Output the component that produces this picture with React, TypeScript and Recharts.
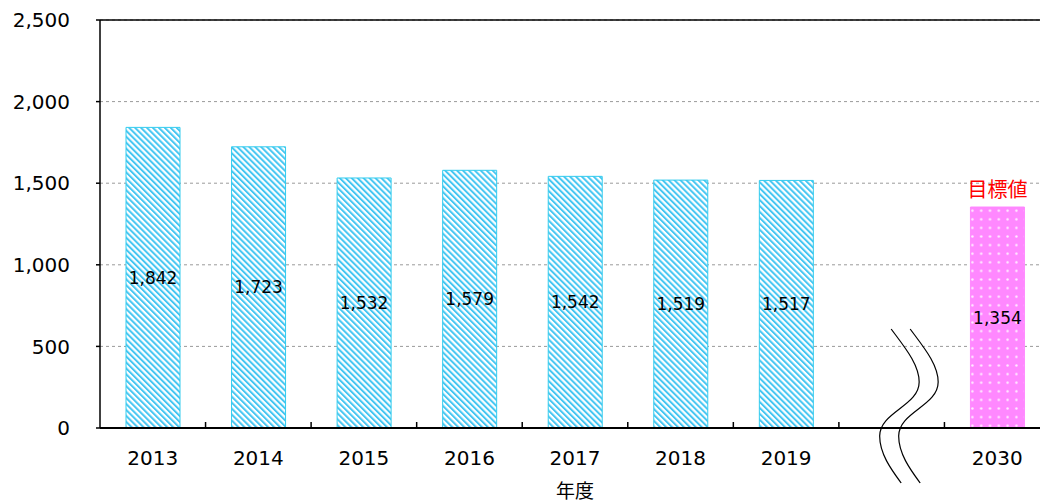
import {
  BarChart,
  Bar,
  XAxis,
  YAxis,
  CartesianGrid,
  ReferenceLine,
  LabelList,
  Cell,
} from 'recharts';

const years = ['2013', '2014', '2015', '2016', '2017', '2018', '2019', '', '2030'];
const emissions = [1842, 1723, 1532, 1579, 1542, 1519, 1517, null, 1354];
const targetLabels = ['', '', '', '', '', '', '', '', '目標値'];
const yTicks = [0, 500, 1000, 1500, 2000, 2500];

const data = years.map((year, i) => ({
  year,
  value: emissions[i],
  target: targetLabels[i] || undefined,
}));

const CHART_W = 1070;
const CHART_H = 502;
const MARGIN = { top: 20, right: 20, left: 0, bottom: 0 };
const Y_W = 100;
const X_H = 74;
const SLOT = (CHART_W - MARGIN.left - MARGIN.right - Y_W) / years.length;

const NUM_FONT = '"DejaVu Sans", Verdana, sans-serif';
const CJK_FONT = '"Noto Sans CJK JP", sans-serif';

const fmt = (v: any) => (v == null || v === '' ? '' : Number(v).toLocaleString('en-US'));

// S-shaped break mark, relative to the category centre on the axis
const WAVE =
  'M -0.5 -99 C 12 -82, 27.5 -64, 27.5 -46 C 27.5 -22, -12 -16, -12 8 C -12 26, 0 42, 9.5 55';

function YearTick(props: any) {
  const { x, y, payload } = props;
  const half = SLOT / 2;
  return (
    <g>
      <line x1={x + half} x2={x + half} y1={y} y2={y - 6} stroke="#000" strokeWidth={1.5} />
      {payload.value === '' ? (
        <g fill="none" stroke="#000" strokeWidth={1.2}>
          <path d={WAVE} transform={`translate(${x}, ${y})`} />
          <path d={WAVE} transform={`translate(${x + 19}, ${y})`} />
        </g>
      ) : (
        <text
          x={x}
          y={y + 30}
          textAnchor="middle"
          dominantBaseline="central"
          fontSize={20}
          fontFamily={NUM_FONT}
          fill="#000"
        >
          {payload.value}
        </text>
      )}
    </g>
  );
}

export default function App() {
  return (
    <div
      style={{
        position: 'fixed',
        top: 0,
        left: 0,
        width: 1040,
        height: 502,
        overflow: 'hidden',
        background: '#fff',
        fontFamily: NUM_FONT,
      }}
    >
      <BarChart width={CHART_W} height={CHART_H} data={data} margin={MARGIN}>
        <defs>
          <pattern
            id="hatch"
            patternUnits="userSpaceOnUse"
            width={4.2}
            height={4.2}
            patternTransform="rotate(-45)"
          >
            <rect x={0} y={0} width={4.2} height={4.2} fill="#fff" />
            <rect x={0} y={0} width={2} height={4.2} fill="#45c6f2" />
          </pattern>
          <pattern id="dots" patternUnits="userSpaceOnUse" width={8.8} height={8.6}>
            <rect x={0} y={0} width={8.8} height={8.6} fill="#ff88ff" />
            <circle cx={4.4} cy={4.3} r={1.2} fill="#fff" opacity={0.85} />
          </pattern>
        </defs>

        <CartesianGrid vertical={false} stroke="#9a9a9a" strokeDasharray="3 3" />

        <XAxis
          dataKey="year"
          height={X_H}
          tickLine={false}
          tickSize={0}
          tickMargin={0}
          axisLine={{ stroke: '#000', strokeWidth: 2 }}
          tick={<YearTick />}
          interval={0}
          label={{
            value: '年度',
            position: 'insideBottom',
            offset: 4,
            fill: '#000',
            fontSize: 19,
            fontFamily: CJK_FONT,
          }}
        />

        <YAxis
          width={Y_W}
          domain={[0, 2500]}
          ticks={yTicks}
          tickFormatter={fmt}
          tickSize={4}
          tickMargin={26}
          tickLine={{ stroke: '#000', strokeWidth: 1.5 }}
          axisLine={{ stroke: '#000', strokeWidth: 1.5 }}
          tick={{ fill: '#000', fontSize: 20, fontFamily: NUM_FONT }}
        />

        <ReferenceLine y={2500} stroke="#000" strokeWidth={1.5} />

        <Bar dataKey="value" barSize={54} isAnimationActive={false}>
          {data.map((d, i) => (
            <Cell
              key={i}
              fill={d.target ? 'url(#dots)' : 'url(#hatch)'}
              stroke={d.target ? '#ff88ff' : '#33ccee'}
              strokeWidth={1}
            />
          ))}
          <LabelList
            dataKey="value"
            position="center"
            formatter={fmt}
            fill="#000"
            fontSize={17}
            fontFamily={NUM_FONT}
          />
          <LabelList
            dataKey="target"
            position="top"
            offset={10}
            fill="#ff0000"
            fontSize={20}
            fontFamily={CJK_FONT}
          />
        </Bar>
      </BarChart>
    </div>
  );
}
